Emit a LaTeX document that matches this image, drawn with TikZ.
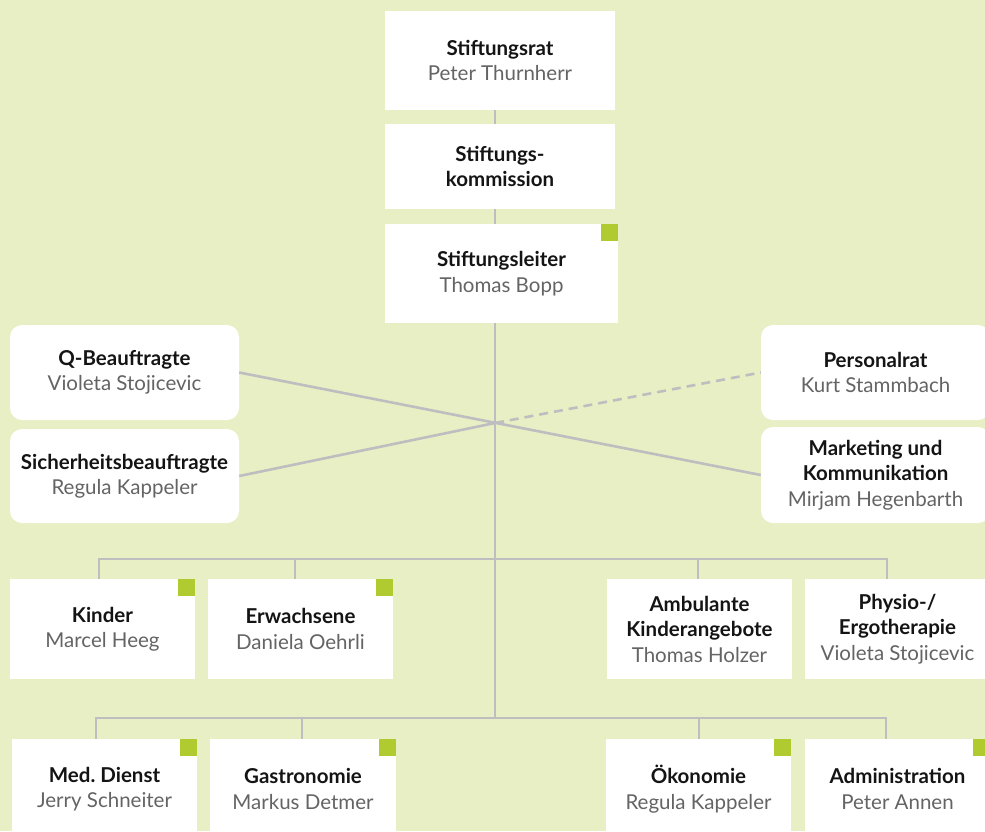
\documentclass[tikz,border=0pt]{standalone}
\usepackage{fontspec}
\setmainfont{Lato}
\usetikzlibrary{calc}
\frenchspacing
\definecolor{bg}{RGB}{233,239,196}
\definecolor{ln}{RGB}{190,190,192}
\definecolor{sq}{RGB}{175,203,47}
\definecolor{nm}{RGB}{100,100,100}
\definecolor{tt}{RGB}{20,20,20}
\newcommand{\ttl}[1]{{\bfseries\color{tt}#1}}
\newcommand{\nme}[1]{{\color{nm}#1}}
\begin{document}
\begin{tikzpicture}[x=1pt,y=-1pt,
  box/.style={fill=white, align=center, inner sep=0pt, font=\fontsize{20.5}{25.5}\selectfont},
  rbox/.style={box, rounded corners=12pt},
  conn/.style={draw=ln, line width=2.6pt},
  dconn/.style={conn, dash pattern=on 9pt off 6pt},
  sqmark/.style={fill=sq}]
\useasboundingbox (0,0) rectangle (985,831);
\fill[bg] (0,0) rectangle (985,831);
\clip (0,0) rectangle (985,831);
\coordinate (hub) at (495,423);
% top column
\node[box, minimum width=230pt, minimum height=99pt] (rat) at (500,60.5) {\ttl{Stiftungsrat}\\\nme{Peter Thurnherr}};
\node[box, minimum width=230pt, minimum height=85pt] (kom) at (500,166.5) {\ttl{Stiftungs-}\\\ttl{kommission}};
\node[box, minimum width=233pt, minimum height=99pt] (leiter) at (501.5,273.5) {\ttl{Stiftungsleiter}\\\nme{Thomas Bopp}};
% staff boxes
\node[rbox, minimum width=229pt, minimum height=95pt] (q) at (124.5,372.5) {\ttl{Q-Beauftragte}\\\nme{Violeta Stojicevic}};
\node[rbox, minimum width=229pt, minimum height=94pt] (sich) at (124.5,476) {\ttl{Sicherheitsbeauftragte}\\\nme{Regula Kappeler}};
\node[rbox, minimum width=229pt, minimum height=95pt] (pers) at (875.5,372.5) {\ttl{Personalrat}\\\nme{Kurt Stammbach}};
\node[rbox, minimum width=229pt, minimum height=96pt] (mkt) at (875.5,475) {\ttl{Marketing und}\\\ttl{Kommunikation}\\\nme{Mirjam Hegenbarth}};
% row 1
\node[box, minimum width=185pt, minimum height=100pt] (kinder) at (102.5,629) {\ttl{Kinder}\\\nme{Marcel Heeg}};
\node[box, minimum width=185pt, minimum height=100pt] (erw) at (300.5,629) {\ttl{Erwachsene}\\\nme{Daniela Oehrli}};
\node[box, minimum width=185pt, minimum height=100pt] (amb) at (699.5,629) {\ttl{Ambulante}\\\ttl{Kinderangebote}\\\nme{Thomas Holzer}};
\node[box, minimum width=185pt, minimum height=100pt] (phy) at (897.5,629) {\ttl{Physio-/}\\\ttl{Ergotherapie}\\\nme{Violeta Stojicevic}};
% row 2
\node[box, minimum width=185pt, minimum height=100pt] (med) at (104.5,789) {\ttl{Med. Dienst}\\\nme{Jerry Schneiter}};
\node[box, minimum width=186pt, minimum height=100pt] (gas) at (303,789) {\ttl{Gastronomie}\\\nme{Markus Detmer}};
\node[box, minimum width=185pt, minimum height=100pt] (oek) at (698.5,789) {\ttl{Ökonomie}\\\nme{Regula Kappeler}};
\node[box, minimum width=185pt, minimum height=100pt] (adm) at (897.5,789) {\ttl{Administration}\\\nme{Peter Annen}};
% green markers
\foreach \n in {leiter,kinder,erw,med,gas,oek,adm}
  \fill[sqmark] (\n.north east) rectangle ++(-17,17);
% spine
\draw[conn] (rat.south -| hub) -- (kom.north -| hub);
\draw[conn] (kom.south -| hub) -- (leiter.north -| hub);
\draw[conn] (leiter.south -| hub) -- ($(med.north -| hub)+(0,-21)$);
% crossing staff lines
\draw[conn] (q.east) -- (mkt.west);
\draw[conn] (sich.east) -- (hub);
\draw[dconn] (hub) -- (pers.west);
% bus 1
\draw[conn] ([xshift=-3.5pt]kinder.north) -- ++(0,-20) -| ([xshift=-10.5pt]phy.north);
\draw[conn] ([xshift=-5.5pt]erw.north) -- ++(0,-20);
\draw[conn] ([xshift=-1.5pt]amb.north) -- ++(0,-20);
% bus 2
\draw[conn] ([xshift=-8.5pt]med.north) -- ++(0,-21) -| ([xshift=-11.5pt]adm.north);
\draw[conn] ([xshift=-1pt]gas.north) -- ++(0,-21);
\draw[conn] ([xshift=0.5pt]oek.north) -- ++(0,-21);
\end{tikzpicture}
\end{document}
